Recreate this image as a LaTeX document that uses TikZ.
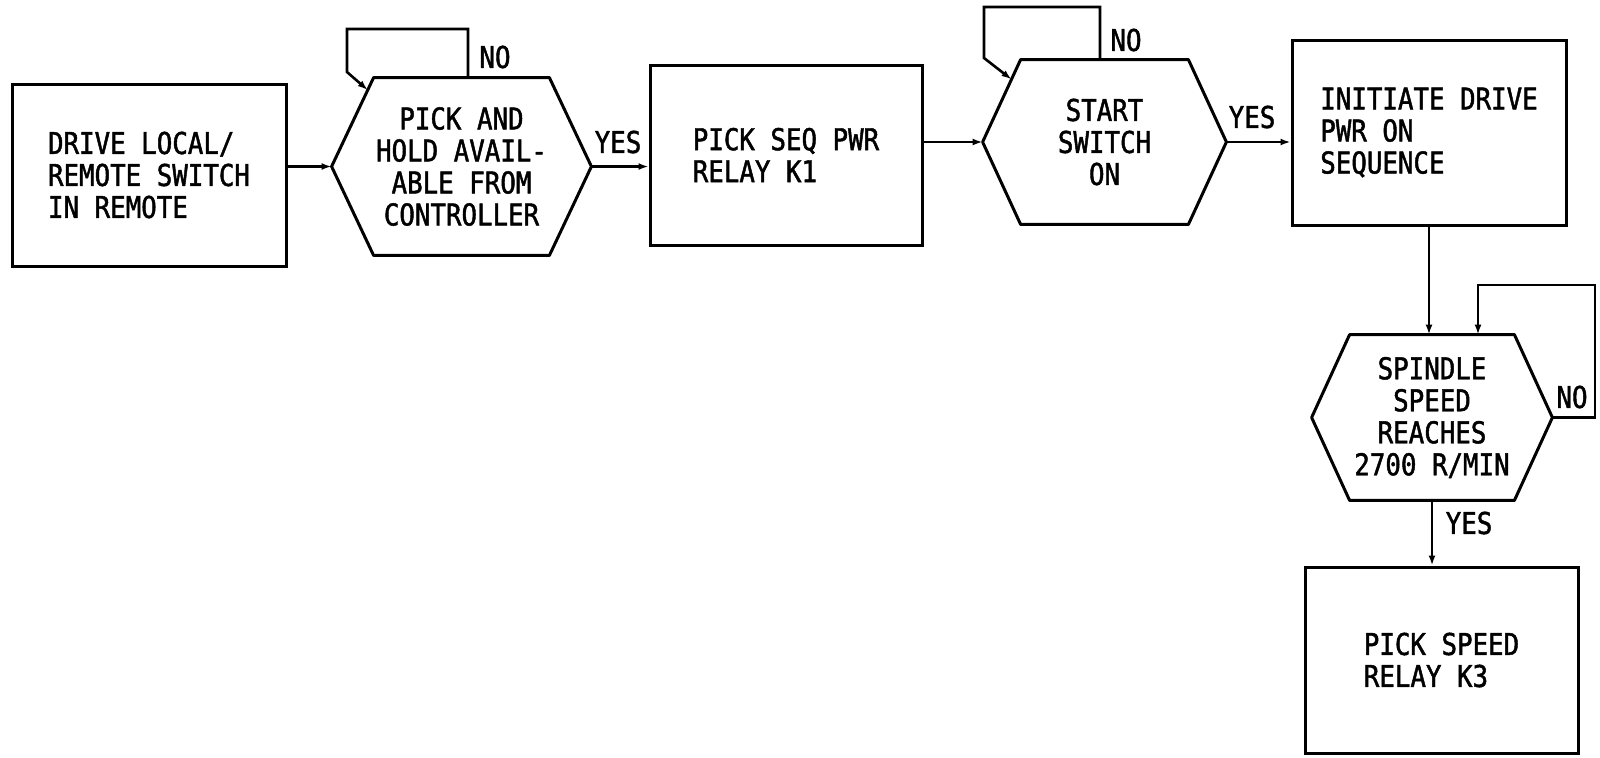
\documentclass[tikz,border=0pt]{standalone}
\usepackage{fontspec}
\setmainfont{DejaVu Sans Mono}[FakeStretch=0.86, FakeBold=1.5]
\usetikzlibrary{arrows.meta,calc}
\newcommand{\hexa}[2]{\draw[shapeline] (#1.west) -- ([xshift=#2]#1.north west) coordinate (#1-tl) -- ([xshift=-#2]#1.north east) coordinate (#1-tr) -- (#1.east) -- ([xshift=-#2]#1.south east) -- ([xshift=#2]#1.south west) -- cycle;}
\begin{document}
\begin{tikzpicture}[x=0.5pt,y=-0.5pt,
  every node/.style={font=\fontsize{15}{16}\selectfont},
  box/.style={draw, line width=1.5pt, align=left, inner sep=0pt},
  hexn/.style={align=center, inner sep=0pt},
  shapeline/.style={line width=1.5pt, line join=round},
  arr/.style={line width=1.3pt, -{Latex[length=5pt,width=3.5pt]}},
  lab/.style={inner sep=0pt}]
\useasboundingbox (0,0) rectangle (1600,757);

% boxes
\node[box, minimum width=137pt, minimum height=91pt] (b1) at (149,175) {DRIVE LOCAL/\\REMOTE SWITCH\\IN REMOTE};
\node[box, minimum width=136pt, minimum height=90pt] (b2) at (786,155) {PICK SEQ PWR\\RELAY K1};
\node[box, minimum width=137pt, minimum height=92.5pt] (b3) at (1429,132.5) {INITIATE DRIVE\\PWR ON\\SEQUENCE};
\node[box, minimum width=136.5pt, minimum height=93pt] (b4) at (1441.5,660) {PICK SPEED\\RELAY K3};

% decisions
\node[hexn, minimum width=129.5pt, minimum height=88.5pt] (h1) at (461.5,166.5) {PICK AND\\HOLD AVAIL-\\ABLE FROM\\CONTROLLER};
\hexa{h1}{21pt}
\node[hexn, minimum width=121.5pt, minimum height=82pt] (h2) at (1104.5,142) {START\\SWITCH\\ON};
\hexa{h2}{19pt}
\node[hexn, minimum width=120pt, minimum height=82.5pt] (h3) at (1432,417.5) {SPINDLE\\SPEED\\REACHES\\2700 R/MIN};
\hexa{h3}{19pt}

% main flow
\draw[arr] (h1.west -| b1.east) -- (h1.west);
\draw[arr] (h1.east) -- (h1.east -| b2.west);
\draw[arr] (h2.west -| b2.east) -- (h2.west);
\draw[arr] (h2.east) -- (h2.east -| b3.west);
\draw[arr] (b3.south) -- (b3.south |- h3.north);
\draw[arr] (h3.south) -- (h3.south |- b4.north);

% NO loops
\draw[arr] ([xshift=3.25pt]h1.north) |- (347,29) -- (347,72) -- ($(h1.west)!0.86!(h1-tl)$);
\draw[arr] ([xshift=-2.25pt]h2.north) |- (984,7) -- (984,58) -- ($(h2.west)!0.76!(h2-tl)$);
\draw[arr] (h3.east) -| (1595,285) -| ([xshift=23pt]h3.north);

% labels
\node[lab] (no1) at (495,57) {NO};
\node[lab] (no2) at (1126,40) {NO};
\node[lab] (no3) at (1572,397) {NO};
\node[lab] (yes1) at (618,142) {YES};
\node[lab] (yes2) at (1252,117) {YES};
\node[lab] (yes3) at (1469,523) {YES};
\end{tikzpicture}
\end{document}
